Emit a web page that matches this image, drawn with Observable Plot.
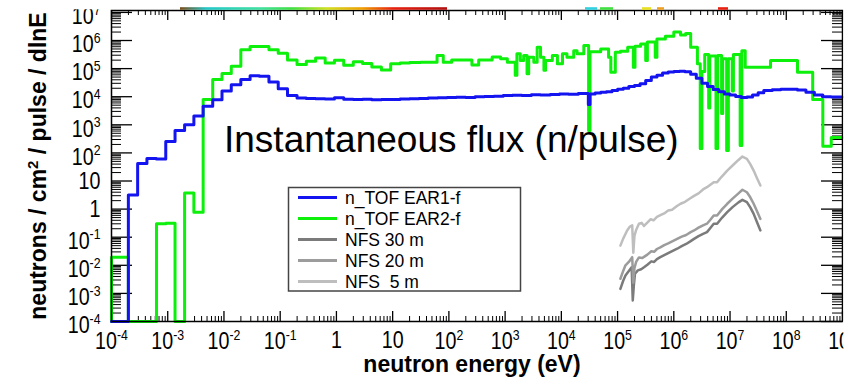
<!DOCTYPE html>
<html><head><meta charset="utf-8">
<script src="https://cdn.jsdelivr.net/npm/d3@7"></script>
<script src="https://cdn.jsdelivr.net/npm/@observablehq/plot@0.6"></script>
<style>
html,body{margin:0;padding:0;background:#fff;}
#chart{width:857px;height:385px;overflow:hidden;position:relative;}
</style></head><body><div id="chart"></div>
<script>
const FONT = "'Liberation Sans', Arial, Helvetica, sans-serif";

// ---------- data (log10 values) ----------
const seriesNames  = ["n_TOF EAR1-f", "n_TOF EAR2-f", "NFS 30 m", "NFS 20 m", "NFS  5 m"];
const seriesColors = ["#1414f0", "#0cf00c", "#7b7b7b", "#9c9c9c", "#bebebe"];

const xTickExp = [-4,-3,-2,-1,0,1,2,3,4,5,6,7,8,9];
const yTickExp = [-4,-3,-2,-1,0,1,2,3,4,5,6,7];

// n_TOF EAR1: bin lower edges log10(E/eV) and log10(flux)
const ear1LogE = [
 -4, -3.70, -3.535, -3.37, -3.20, -3.035, -2.87, -2.70, -2.535, -2.37,
 -2.20, -2.035, -1.87, -1.70, -1.535, -1.37, -1.20, -1.035, -0.87, -0.70,
 -0.535, -0.37, -0.20, -0.035, 0.13, 0.30, 0.465, 0.63, 0.80, 0.965,
 1.13, 1.30, 1.465, 1.63, 1.80, 1.965, 2.13, 2.30, 2.465, 2.63,
 2.80, 2.965, 3.13, 3.30, 3.465, 3.63, 3.80, 3.965, 4.13, 4.30,
 4.48, 4.51, 4.60, 4.70, 4.80, 4.90, 5.00, 5.10, 5.20, 5.30,
 5.40, 5.50, 5.60, 5.70, 5.80, 5.90, 6.00, 6.10, 6.20, 6.30,
 6.40, 6.50, 6.60, 6.70, 6.80, 6.90, 7.00, 7.10, 7.20, 7.30,
 7.40, 7.50, 7.60, 7.75, 7.90, 8.05, 8.20, 8.35, 8.50, 8.65,
 8.80];
const ear1LogFlux = [
 -4, 0.50, 1.62, 1.80, 1.78, 2.41, 2.80, 3.00, 3.31, 3.66,
 3.89, 4.20, 4.43, 4.61, 4.75, 4.73, 4.52, 4.28, 4.04, 3.95,
 3.94, 3.93, 3.92, 3.96, 3.91, 3.90, 3.91, 3.89, 3.90, 3.90,
 3.92, 3.93, 3.94, 3.95, 3.96, 3.97, 3.98, 3.97, 4.00, 4.01,
 4.02, 4.04, 4.05, 4.04, 4.07, 4.06, 4.08, 4.10, 4.09, 4.11,
 3.72, 4.10, 4.13, 4.16, 4.18, 4.22, 4.27, 4.30, 4.36, 4.40,
 4.46, 4.58, 4.70, 4.76, 4.84, 4.88, 4.90, 4.91, 4.89, 4.80,
 4.66, 4.48, 4.36, 4.26, 4.18, 4.10, 4.06, 4.01, 3.97, 3.99,
 4.06, 4.14, 4.22, 4.25, 4.27, 4.27, 4.24, 4.16, 4.06, 4.00,
 3.99];
const ear1LogEnd = 9.0;

// n_TOF EAR2
const ear2LogE = [
 -4, -3.70, -3.20, -3.035, -2.87, -2.70, -2.535, -2.37, -2.20, -2.035,
 -1.87, -1.70, -1.535, -1.37, -1.20, -1.035, -0.87, -0.70, -0.535, -0.37,
 -0.20, -0.035, 0.13, 0.30, 0.465, 0.63, 0.80, 0.965, 1.13, 1.30,
 1.495, 1.79, 1.90, 2.05, 2.41, 2.53, 2.77, 2.92, 3.04, 3.18,
 3.21, 3.27, 3.33, 3.39, 3.42, 3.51, 3.57, 3.63, 3.69, 3.72,
 3.84, 3.93, 4.02, 4.10, 4.22, 4.28, 4.40, 4.485, 4.51, 4.70,
 4.84, 4.88, 4.96, 5.05, 5.18, 5.28, 5.31, 5.41, 5.50, 5.53,
 5.67, 5.70, 5.85, 6.00, 6.12, 6.21, 6.30, 6.42, 6.47, 6.50,
 6.55, 6.62, 6.64, 6.75, 6.78, 6.85, 6.87, 6.94, 6.97, 7.04,
 7.06, 7.18, 7.21, 7.27, 7.72, 8.20, 8.47, 8.65, 8.80];
const ear2LogFlux = [
 -1.71, -4, -0.52, -0.50, -4, 0.57, -0.11, 3.90, 4.61, 4.83,
 5.08, 5.67, 5.79, 5.79, 5.67, 5.55, 5.31, 5.15, 5.26, 5.38,
 5.20, 5.30, 5.12, 5.24, 5.18, 5.06, 4.95, 5.17, 5.20, 5.22,
 5.23, 5.47, 5.23, 5.31, 5.13, 5.31, 5.41, 5.35, 5.23, 4.76,
 5.53, 5.29, 5.47, 4.82, 5.40, 5.23, 5.76, 5.40, 4.94, 5.29,
 5.47, 5.17, 5.53, 5.40, 5.64, 5.53, 5.82, 2.80, 5.60, 5.70,
 5.40, 4.87, 5.58, 5.62, 5.76, 5.05, 5.80, 5.88, 5.29, 5.95,
 5.40, 6.05, 6.15, 6.30, 6.20, 6.25, 5.76, 5.17, 2.16, 4.90,
 5.50, 3.60, 5.45, 2.16, 5.47, 3.40, 5.35, 2.09, 5.35, 4.20,
 5.50, 2.26, 5.64, 5.05, 5.29, 4.87, 3.90, 2.24, 2.55];
const ear2LogEnd = 9.0;

// NFS curves: log10(E/eV), log10(flux)
const nfs30LogE = [5.05,5.10,5.14,5.20,5.25,5.27,5.29,5.31,5.36,5.42,5.47,5.53,5.60,5.65,5.70,5.76,5.83,5.90,5.98,6.06,6.14,6.22,6.30,6.36,6.44,6.52,6.59,6.65,6.71,6.77,6.86,6.95,7.05,7.15,7.22,7.30,7.36,7.42,7.48,7.54];
const nfs30LogFlux = [-2.84,-2.55,-2.36,-2.20,-2.07,-3.25,-2.70,-2.30,-2.18,-2.14,-2.07,-1.98,-1.86,-1.88,-1.78,-1.71,-1.64,-1.57,-1.49,-1.41,-1.32,-1.24,-1.14,-1.06,-0.96,-0.88,-0.82,-0.67,-0.52,-0.52,-0.30,-0.11,0.08,0.24,0.33,0.25,0.06,-0.17,-0.47,-0.76];
const nfs20LogE = [5.05,5.10,5.14,5.20,5.26,5.28,5.30,5.33,5.38,5.44,5.47,5.53,5.60,5.65,5.70,5.76,5.83,5.90,5.98,6.06,6.14,6.22,6.30,6.36,6.44,6.52,6.59,6.65,6.71,6.77,6.86,6.95,7.05,7.15,7.22,7.30,7.36,7.42,7.48,7.54];
const nfs20LogFlux = [-2.48,-2.20,-2.00,-1.88,-1.71,-2.62,-2.10,-1.88,-1.72,-1.74,-1.70,-1.62,-1.50,-1.52,-1.42,-1.36,-1.28,-1.22,-1.14,-1.06,-0.98,-0.92,-0.82,-0.76,-0.66,-0.58,-0.52,-0.38,-0.23,-0.23,0.00,0.19,0.38,0.56,0.69,0.60,0.42,0.19,-0.08,-0.35];
const nfs5LogE = [5.05,5.10,5.17,5.22,5.26,5.28,5.30,5.33,5.38,5.43,5.47,5.52,5.59,5.64,5.70,5.78,5.84,5.90,5.97,6.05,6.12,6.20,6.28,6.36,6.44,6.52,6.59,6.65,6.71,6.77,6.85,6.95,7.05,7.15,7.22,7.30,7.36,7.42,7.48,7.54];
const nfs5LogFlux = [-1.30,-1.05,-0.76,-0.62,-0.58,-1.55,-0.95,-0.74,-0.52,-0.49,-0.60,-0.50,-0.36,-0.40,-0.28,-0.20,-0.14,-0.05,-0.02,0.10,0.19,0.26,0.37,0.47,0.56,0.70,0.78,0.87,0.96,0.96,1.15,1.37,1.56,1.75,1.87,1.79,1.60,1.37,1.10,0.84];

// ---------- tables ----------
function stepRows(logE, logF, logEnd, name) {
  const n = Math.min(logE.length, logF.length);
  const rows = [{E: 10 ** logE[0], F: 1e-4, series: name}];
  for (let i = 0; i < n; i++) rows.push({E: 10 ** logE[i], F: 10 ** logF[i], series: name});
  rows.push({E: 10 ** logEnd, F: 10 ** logF[n - 1], series: name});
  return rows;
}
function curveRows(logE, logF, name) {
  const n = Math.min(logE.length, logF.length);
  return d3.range(n).map(i => ({E: 10 ** logE[i], F: 10 ** logF[i], series: name}));
}
const ear1Rows = stepRows(ear1LogE, ear1LogFlux, ear1LogEnd, seriesNames[0]);
const ear2Rows = stepRows(ear2LogE, ear2LogFlux, ear2LogEnd, seriesNames[1]);
const nfs30Rows = curveRows(nfs30LogE, nfs30LogFlux, seriesNames[2]);
const nfs20Rows = curveRows(nfs20LogE, nfs20LogFlux, seriesNames[3]);
const nfs5Rows  = curveRows(nfs5LogE,  nfs5LogFlux,  seriesNames[4]);

// ---------- layout ----------
const W = 857, H = 385, ML = 111, MR = 15, MT = 10, MB = 64;
const FW = W - ML - MR, FH = H - MT - MB;
const xMajor = xTickExp.map(e => 10 ** e);
const yMajor = yTickExp.map(e => 10 ** e);
const mult = [2,3,4,5,6,7,8,9];
const xMinor = xTickExp.slice(0, -1).flatMap(e => mult.map(k => k * 10 ** e));
const yMinor = yTickExp.slice(0, -1).flatMap(e => mult.map(k => k * 10 ** e));
const fmt = d => { const n = Math.round(Math.log10(d)); return n === 0 ? "1" : n === 1 ? "10" : "10^" + n; };

const plot = Plot.plot({
  width: W, height: H,
  marginLeft: ML, marginRight: MR, marginTop: MT, marginBottom: MB,
  style: {fontFamily: FONT, fontSize: "24px", background: "white", overflow: "visible"},
  x: {type: "log", domain: [1e-4, 1e9]},
  y: {type: "log", domain: [1e-4, 1.17e7]},
  marks: [
    Plot.ruleY(yMinor, {y: d => d, insetRight: FW - 10, stroke: "#000", strokeWidth: 1}),
    Plot.ruleY(yMinor, {y: d => d, insetLeft: FW - 10, stroke: "#000", strokeWidth: 1}),
    Plot.ruleY(yMajor, {y: d => d, insetRight: FW - 21, stroke: "#000", strokeWidth: 1.3}),
    Plot.ruleY(yMajor, {y: d => d, insetLeft: FW - 21, stroke: "#000", strokeWidth: 1.3}),
    Plot.ruleX(xMinor, {x: d => d, insetTop: FH - 5, stroke: "#000", strokeWidth: 1}),
    Plot.ruleX(xMinor, {x: d => d, insetBottom: FH - 5, stroke: "#000", strokeWidth: 1}),
    Plot.ruleX(xMajor, {x: d => d, insetTop: FH - 10, stroke: "#000", strokeWidth: 1.3}),
    Plot.ruleX(xMajor, {x: d => d, insetBottom: FH - 10, stroke: "#000", strokeWidth: 1.3}),
    Plot.line(nfs30Rows, {x: "E", y: "F", stroke: seriesColors[2], strokeWidth: 2.5}),
    Plot.line(nfs20Rows, {x: "E", y: "F", stroke: seriesColors[3], strokeWidth: 2.5}),
    Plot.line(nfs5Rows,  {x: "E", y: "F", stroke: seriesColors[4], strokeWidth: 2.5}),
    Plot.line(ear2Rows, {x: "E", y: "F", stroke: seriesColors[1], strokeWidth: 3, curve: "step-after"}),
    Plot.line(ear1Rows, {x: "E", y: "F", stroke: seriesColors[0], strokeWidth: 3, curve: "step-after"}),
    Plot.frame({stroke: "#000", strokeWidth: 1.5}),
    Plot.axisX(xMajor, {tickSize: 0, tickPadding: 0, tickFormat: fmt, label: null}),
    Plot.axisY(yMajor, {tickSize: 0, tickPadding: 11, tickFormat: fmt, label: null})
  ]
});

const svg = plot;
const NS = "http://www.w3.org/2000/svg";
// superscript exponents and narrow tick font
svg.querySelectorAll('[aria-label$="tick label"]').forEach(g => {
  const isX = g.getAttribute("aria-label").startsWith("x");
  g.querySelectorAll("text").forEach(t => {
    const s = t.textContent;
    const [base, exp] = s.split("^");
    t.textContent = "";
    const a = document.createElementNS(NS, "tspan"); a.textContent = base; t.appendChild(a);
    if (exp !== undefined) {
      const b = document.createElementNS(NS, "tspan");
      b.setAttribute("dy", "-9.5"); b.setAttribute("font-size", "15"); b.textContent = exp;
      t.appendChild(b);
    }
    t.setAttribute("y", isX ? (exp !== undefined ? 28 : 26.5) : (exp !== undefined ? 11.7 : 8.2));
    t.setAttribute("font-size", "24");
    t.setAttribute("transform", (t.getAttribute("transform") || "") + " scale(0.82,1)");
  });
});

const S = d3.select(svg);
// top strip remnants (cropped panel above)
const defs = S.append("defs");
const grad = defs.append("linearGradient").attr("id", "topstrip").attr("x1", "0").attr("x2", "1");
[[0,"#7a4a18"],[0.1,"#22c8c8"],[0.3,"#40e0a0"],[0.42,"#40e040"],[0.55,"#d0e020"],[0.68,"#f0a000"],[0.8,"#e82010"],[1,"#b01010"]]
  .forEach(([o,c]) => grad.append("stop").attr("offset", o).attr("stop-color", c));
S.append("rect").attr("x", 180).attr("y", 7.2).attr("width", 267).attr("height", 2.6).attr("fill", "url(#topstrip)");
[[585,597,"#30d0e0"],[600,613,"#40e040"],[642,651,"#e8e020"],[657,664,"#f0a020"],[718,728,"#e82010"]]
  .forEach(([a,b,c]) => S.append("rect").attr("x", a).attr("y", 7.2).attr("width", b - a).attr("height", 2.6).attr("fill", c));

// masks replicating the cropped figure edges
S.append("rect").attr("x", 0).attr("y", 0).attr("width", 110).attr("height", 9.3).attr("fill", "white");
S.append("rect").attr("x", 843.3).attr("y", 0).attr("width", 20).attr("height", H).attr("fill", "white");

// annotation
S.append("text").attr("x", 224).attr("y", 152).attr("text-anchor", "start")
  .attr("font-family", FONT).attr("font-size", 37).attr("fill", "#000").text("Instantaneous flux (n/pulse)");

// axis titles
S.append("text").attr("x", 472).attr("y", 372).attr("text-anchor", "middle")
  .attr("font-family", FONT).attr("font-size", 23).attr("font-weight", "bold").attr("fill", "#000").text("neutron energy (eV)");
const yt = S.append("text").attr("transform", "translate(46,166) rotate(-90)").attr("text-anchor", "middle")
  .attr("font-family", FONT).attr("font-size", 23).attr("font-weight", "bold").attr("fill", "#000");
yt.append("tspan").text("neutrons / cm");
yt.append("tspan").attr("dy", -8).attr("font-size", 15).text("2");
yt.append("tspan").attr("dy", 8).text(" / pulse / dlnE");

// legend
const lg = S.append("g").attr("font-family", FONT).attr("font-size", 17.5).attr("text-anchor", "start");
lg.append("rect").attr("x", 288.5).attr("y", 187.5).attr("width", 232).attr("height", 103.5)
  .attr("fill", "white").attr("stroke", "#444").attr("stroke-width", 1.5);
seriesNames.forEach((s, i) => {
  const cy = 197.5 + i * 21;
  lg.append("line").attr("x1", 298).attr("x2", 337).attr("y1", cy).attr("y2", cy)
    .attr("stroke", seriesColors[i]).attr("stroke-width", 3);
  lg.append("text").attr("x", 345).attr("y", cy + 6.2).attr("text-anchor", "start").attr("xml:space", "preserve")
    .style("white-space", "pre").attr("fill", "#000").text(s);
});

document.getElementById("chart").appendChild(svg);
</script>
</body></html>
